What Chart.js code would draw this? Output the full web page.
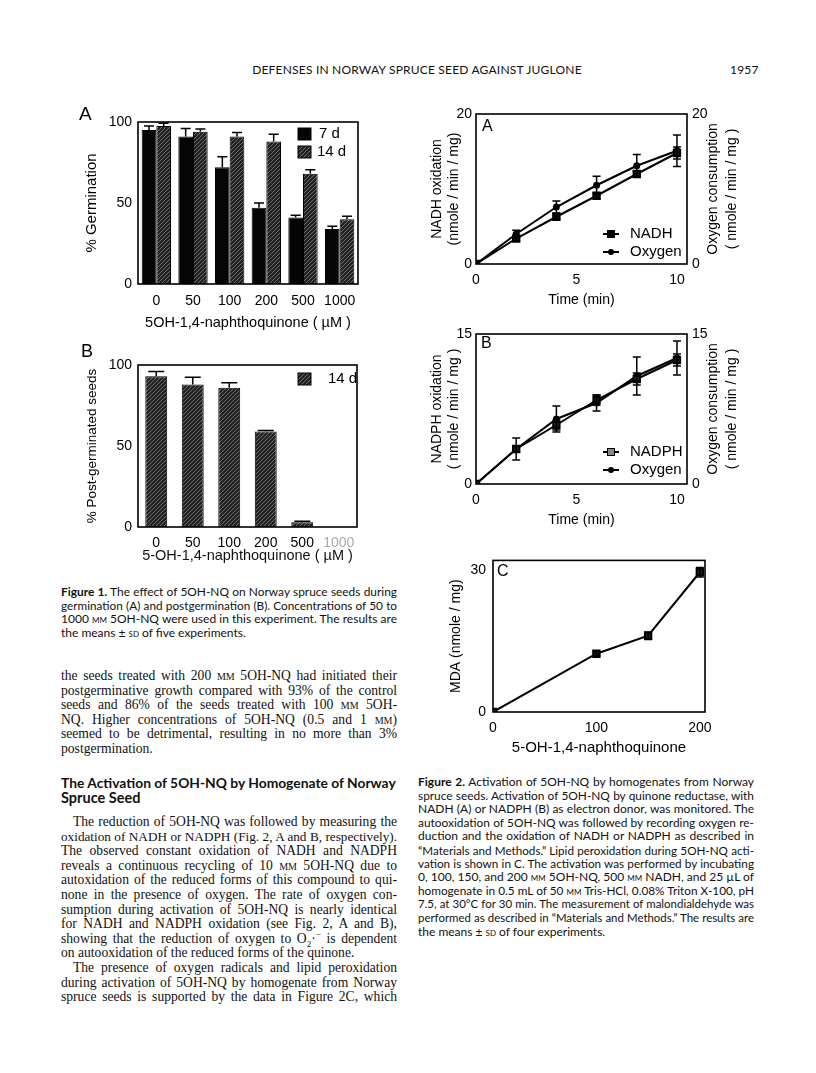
<!DOCTYPE html>
<html>
<head>
<meta charset="utf-8">
<script src="https://cdn.jsdelivr.net/npm/chart.js@4.4.1/dist/chart.umd.min.js"></script>
<style>
  html,body{margin:0;padding:0;background:#fff;}
  #page{position:relative;width:816px;height:1073px;overflow:hidden;background:#fff;color:#111;}
  .cv{position:absolute;}
  .ln{position:absolute;white-space:nowrap;line-height:14px;height:14px;}
  .cap{font-family:Lato,"Open Sans",sans-serif;font-size:12px;}
  .body{font-family:"Liberation Serif",serif;font-size:13.6px;}
  .hd{font-family:Lato,sans-serif;font-weight:700;font-size:14.5px;}
  .sc{font-variant:small-caps;}
  .pl{position:absolute;font-family:"Liberation Sans",Arial,sans-serif;line-height:1;color:#000;}
  .hdr{position:absolute;font-family:Lato,sans-serif;font-size:12px;letter-spacing:0.2px;line-height:14px;}
</style>
</head>
<body>
<div id="page">
  <div class="hdr" style="left:0;width:834px;text-align:center;top:63px;">DEFENSES IN NORWAY SPRUCE SEED AGAINST JUGLONE</div>
  <div class="hdr" style="left:730px;top:63px;">1957</div>

  <canvas id="c1a" class="cv" width="320" height="240" style="left:50px;top:95px;width:320px;height:240px;"></canvas>
  <canvas id="c1b" class="cv" width="320" height="235" style="left:50px;top:340px;width:320px;height:235px;"></canvas>
  <canvas id="c2a" class="cv" width="350" height="212" style="left:400px;top:100px;width:350px;height:212px;"></canvas>
  <canvas id="c2b" class="cv" width="350" height="212" style="left:400px;top:320px;width:350px;height:212px;"></canvas>
  <canvas id="c2c" class="cv" width="350" height="215" style="left:400px;top:545px;width:350px;height:215px;"></canvas>

  <div class="pl" style="left:79px;top:104px;font-size:19px;">A</div>
  <div class="pl" style="left:81px;top:342px;font-size:18px;">B</div>
  <div class="pl" style="left:482px;top:118px;font-size:16px;">A</div>
  <div class="pl" style="left:481px;top:335px;font-size:16px;">B</div>
  <div class="pl" style="left:497px;top:563px;font-size:16px;">C</div>

  <div id="text"></div>
</div>

<script>
// ---------------- DATA ----------------
const concLabels = ['0', '50', '100', '200', '500', '1000'];
const germ7d      = [95, 91, 72, 47, 41, 34];
const germ7dErr   = [2.5, 5, 6.5, 3, 1.5, 1.7];
const germ14d     = [97.5, 94, 91, 88, 68, 40];
const germ14dErr  = [1.7, 1.7, 2.5, 4.5, 2.5, 1.8];
const germTicks   = [0, 50, 100];

const postGerm14d    = [93, 88, 86, 59, 3, 0];
const postGerm14dErr = [3, 4.5, 3, 0.5, 0.5, 0];

const timeMin    = [0, 2, 4, 6, 8, 10];
const timeTicks  = [0, 5, 10];
const nadhOx     = [0, 3.4, 6.3, 9.1, 12.0, 14.8];
const nadhErr    = [0, 0.3, 0.3, 0.4, 0.4, 0.8];
const oxygenA    = [0, 4.0, 7.6, 10.5, 13.1, 15.1];
const oxygenAErr = [0, 0.5, 0.8, 1.2, 1.5, 2.1];
const ticksA     = [0, 20];

const nadphOx    = [0, 3.5, 5.9, 8.4, 10.5, 12.4];
const nadphErr   = [0, 0.3, 0.5, 0.5, 0.6, 0.6];
const oxygenB    = [0, 3.5, 6.5, 8.1, 10.8, 12.6];
const oxygenBErr = [0, 1.1, 1.3, 0.8, 1.9, 1.7];
const ticksB     = [0, 15];

const nqConc     = [0, 100, 150, 200];
const nqTicks    = [0, 100, 200];
const mda        = [0, 12.3, 16.1, 29.5];
const mdaErr     = [0, 0.4, 0.8, 1.0];
const ticksC     = [0, 30];

// ---------------- CHART SETUP ----------------
Chart.defaults.font.family = '"Liberation Sans", Arial, sans-serif';
Chart.defaults.color = '#000';
Chart.defaults.animation = false;

function hatchPattern() {
  const c = document.createElement('canvas');
  c.width = 4; c.height = 4;
  const g = c.getContext('2d');
  g.fillStyle = '#222'; g.fillRect(0, 0, 4, 4);
  g.strokeStyle = '#6e6e6e'; g.lineWidth = 1;
  g.beginPath();
  g.moveTo(0, 4); g.lineTo(4, 0);
  g.moveTo(-1, 1); g.lineTo(1, -1);
  g.moveTo(3, 5); g.lineTo(5, 3);
  g.stroke();
  return g.createPattern(c, 'repeat');
}
const HATCH = hatchPattern();

const errorBars = {
  id: 'errorBars',
  afterDatasetsDraw(chart) {
    const ctx = chart.ctx;
    chart.data.datasets.forEach((ds, di) => {
      if (!ds.errors) return;
      const meta = chart.getDatasetMeta(di);
      const ys = chart.scales[meta.yAxisID];
      ctx.save();
      ctx.strokeStyle = '#000';
      ctx.lineWidth = ds.errWidth || 1.5;
      meta.data.forEach((el, i) => {
        const e = ds.errors[i];
        if (!e) return;
        const raw = ds.data[i];
        const v = (typeof raw === 'object') ? raw.y : raw;
        const x = el.x;
        const yT = ys.getPixelForValue(v + e);
        const y0 = ys.getPixelForValue(v);
        const yB = ds.errUp ? y0 : ys.getPixelForValue(v - e);
        const cw = ds.errCap || 4;
        ctx.beginPath();
        ctx.moveTo(x, yT); ctx.lineTo(x, yB);
        ctx.moveTo(x - cw, yT); ctx.lineTo(x + cw, yT);
        if (!ds.errUp) { ctx.moveTo(x - cw, yB); ctx.lineTo(x + cw, yB); }
        ctx.stroke();
      });
      ctx.restore();
    });
  }
};

const boxFrame = {
  id: 'boxFrame',
  afterDraw(chart) {
    const a = chart.chartArea, ctx = chart.ctx;
    ctx.save();
    ctx.strokeStyle = '#000';
    ctx.lineWidth = 1.6;
    ctx.strokeRect(a.left, a.top, a.right - a.left, a.bottom - a.top);
    ctx.restore();
  }
};

const customLegend = {
  id: 'customLegend',
  afterDraw(chart, args, opts) {
    if (!opts.items) return;
    const ctx = chart.ctx, a = chart.chartArea;
    ctx.save();
    opts.items.forEach(it => {
      const ds = chart.data.datasets[it.dataset];
      if (it.type === 'box') {
        ctx.fillStyle = ds.backgroundColor;
        ctx.fillRect(a.left + it.x, a.top + it.y, it.w, it.h);
        ctx.strokeStyle = '#000'; ctx.lineWidth = 1;
        ctx.strokeRect(a.left + it.x, a.top + it.y, it.w, it.h);
      } else {
        const y = a.top + it.y;
        ctx.strokeStyle = '#000'; ctx.lineWidth = 2;
        ctx.beginPath(); ctx.moveTo(a.left + it.x, y); ctx.lineTo(a.left + it.x + it.w, y); ctx.stroke();
        const cx = a.left + it.x + it.w / 2;
        ctx.fillStyle = it.markFill || '#000';
        if (it.mark === 'rect') {
          ctx.fillRect(cx - 3.5, y - 3.5, 7, 7);
          ctx.lineWidth = 1; ctx.strokeRect(cx - 3.5, y - 3.5, 7, 7);
        } else {
          ctx.beginPath(); ctx.arc(cx, y, 3, 0, Math.PI * 2); ctx.fill();
        }
      }
      ctx.fillStyle = '#000';
      ctx.font = (opts.fontSize || 15) + 'px "Liberation Sans", Arial, sans-serif';
      ctx.textBaseline = 'middle';
      ctx.textAlign = 'left';
      ctx.fillText(ds.label, a.left + it.tx, a.top + it.ty);
    });
    ctx.restore();
  }
};

const rightTitle = {
  id: 'rightTitle',
  afterDraw(chart, args, opts) {
    if (!opts.lines) return;
    const ctx = chart.ctx, a = chart.chartArea;
    ctx.save();
    ctx.fillStyle = '#000';
    ctx.font = (opts.fontSize || 14) + 'px "Liberation Sans", Arial, sans-serif';
    ctx.textAlign = 'center';
    ctx.textBaseline = 'middle';
    opts.lines.forEach((t, i) => {
      ctx.save();
      ctx.translate(a.right + opts.offsets[i], (a.top + a.bottom) / 2 + (opts.dy || 0));
      ctx.rotate(-Math.PI / 2);
      ctx.fillText(t, 0, 0);
      ctx.restore();
    });
    ctx.restore();
  }
};

function setTicks(vals) { return s => { s.ticks = vals.map(v => ({ value: v })); }; }
function fixW(w) { return s => { s.width = w; }; }
function fixH(h) { return s => { s.height = h; }; }

const noGrid = { display: false, drawTicks: false };
const noBorder = { display: false };

// ---------- Figure 1A ----------
new Chart(document.getElementById('c1a'), {
  type: 'bar',
  data: {
    labels: concLabels,
    datasets: [
      { label: '7 d', data: germ7d, errors: germ7dErr, errUp: true, errCap: 5,
        backgroundColor: '#050505', borderColor: '#000', borderWidth: 1 },
      { label: '14 d', data: germ14d, errors: germ14dErr, errUp: true, errCap: 5,
        backgroundColor: HATCH, borderColor: '#000', borderWidth: 1 }
    ]
  },
  options: {
    responsive: false, devicePixelRatio: 1,
    layout: { padding: { top: 27, right: 12, left: 0, bottom: 0 } },
    datasets: { bar: { categoryPercentage: 0.8, barPercentage: 1.0 } },
    plugins: {
      legend: { display: false }, tooltip: { enabled: false },
      customLegend: { fontSize: 15, items: [
        { type: 'box', dataset: 0, x: 160, y: 6, w: 13, h: 12, tx: 181, ty: 12 },
        { type: 'box', dataset: 1, x: 160, y: 24, w: 13, h: 12, tx: 179, ty: 30 }
      ] }
    },
    scales: {
      x: { grid: noGrid, border: noBorder, afterFit: fixH(51),
           ticks: { font: { size: 14 }, padding: 9, maxRotation: 0 },
           title: { display: true, text: '5OH-1,4-naphthoquinone ( µM )', font: { size: 14.5 }, padding: { top: 0, bottom: 3 } } },
      y: { min: 0, max: 100, grid: noGrid, border: noBorder, afterFit: fixW(88),
           afterBuildTicks: setTicks(germTicks),
           ticks: { font: { size: 14 }, padding: 6 },
           title: { display: true, text: '% Germination', font: { size: 15 }, padding: { top: 33, bottom: 0 } } }
    }
  },
  plugins: [errorBars, boxFrame, customLegend]
});

// ---------- Figure 1B ----------
new Chart(document.getElementById('c1b'), {
  type: 'bar',
  data: {
    labels: concLabels,
    datasets: [
      { label: '14 d', data: postGerm14d, errors: postGerm14dErr, errUp: true, errCap: 8,
        backgroundColor: HATCH, borderColor: '#000', borderWidth: 1 }
    ]
  },
  options: {
    responsive: false, devicePixelRatio: 1,
    layout: { padding: { top: 25, right: 13, left: 0, bottom: 0 } },
    datasets: { bar: { categoryPercentage: 0.6, barPercentage: 1.0 } },
    plugins: {
      legend: { display: false }, tooltip: { enabled: false },
      customLegend: { fontSize: 15, items: [
        { type: 'box', dataset: 0, x: 160, y: 8, w: 13, h: 12, tx: 190, ty: 14 }
      ] }
    },
    scales: {
      x: { grid: noGrid, border: noBorder, afterFit: fixH(48),
           ticks: { font: { size: 14 }, padding: 8, maxRotation: 0,
                    color: c => (c.index === 5 ? '#aaa' : '#000') },
           title: { display: true, text: '5-OH-1,4-naphthoquinone ( µM )', font: { size: 14.5 }, color: '#111', padding: { top: 0, bottom: 10 } } },
      y: { min: 0, max: 100, grid: noGrid, border: noBorder, afterFit: fixW(88),
           afterBuildTicks: setTicks(germTicks),
           ticks: { font: { size: 14 }, padding: 6 },
           title: { display: true, text: '% Post-germinated seeds', font: { size: 13.5 }, padding: { top: 34, bottom: 0 } } }
    }
  },
  plugins: [errorBars, boxFrame, customLegend]
});

// ---------- Figure 2A / 2B helper ----------
function timeChart(id, ds1, ds2, yTicks, yMax, leftTitle, legendItems) {
  return new Chart(document.getElementById(id), {
    type: 'line',
    data: { datasets: [ds1, ds2] },
    options: {
      responsive: false, devicePixelRatio: 1,
      layout: { padding: { top: 14, right: 0, left: 0, bottom: 0 } },
      plugins: {
        legend: { display: false }, tooltip: { enabled: false },
        customLegend: { fontSize: 15, items: legendItems },
        rightTitle: { fontSize: 14, lines: ['Oxygen consumption', '( nmole / min / mg )'], offsets: [26, 45] }
      },
      scales: {
        x: { type: 'linear', min: 0, max: 10.5, grid: noGrid, border: noBorder, afterFit: fixH(48),
             afterBuildTicks: setTicks(timeTicks),
             ticks: { font: { size: 14 }, padding: 8 },
             title: { display: true, text: 'Time (min)', font: { size: 14 }, padding: { top: 0, bottom: 3 } } },
        y: { min: 0, max: yMax, grid: noGrid, border: noBorder, afterFit: fixW(76),
             afterBuildTicks: setTicks(yTicks),
             ticks: { font: { size: 14 }, padding: 4 },
             title: { display: true, text: leftTitle, font: { size: 14 }, padding: { top: 29, bottom: 0 } } },
        y2: { position: 'right', min: 0, max: yMax, grid: noGrid, border: noBorder, afterFit: fixW(63),
              afterBuildTicks: setTicks(yTicks),
              ticks: { font: { size: 14 }, padding: 5 } }
      }
    },
    plugins: [errorBars, boxFrame, customLegend, rightTitle]
  });
}

function pts(xs, ys) { return xs.map((x, i) => ({ x: x, y: ys[i] })); }

timeChart('c2a',
  { label: 'NADH', data: pts(timeMin, nadhOx), errors: nadhErr, errCap: 4,
    borderColor: '#000', borderWidth: 2, backgroundColor: '#000',
    pointStyle: 'rect', pointRadius: 4.5, pointBackgroundColor: '#111', pointBorderColor: '#000' },
  { label: 'Oxygen', data: pts(timeMin, oxygenA), errors: oxygenAErr, errCap: 4,
    borderColor: '#000', borderWidth: 2, backgroundColor: '#000',
    pointStyle: 'circle', pointRadius: 2.5, pointBackgroundColor: '#000', pointBorderColor: '#000' },
  ticksA, 20, ['NADH oxidation', '(nmole / min / mg)'],
  [ { type: 'line', mark: 'rect', dataset: 0, x: 127, y: 120, w: 16, tx: 154, ty: 120 },
    { type: 'line', mark: 'dot', dataset: 1, x: 127, y: 138, w: 16, tx: 154, ty: 138 } ]
);

timeChart('c2b',
  { label: 'NADPH', data: pts(timeMin, nadphOx), errors: nadphErr, errCap: 4,
    borderColor: '#000', borderWidth: 2, backgroundColor: '#000',
    pointStyle: 'rect', pointRadius: 4.5, pointBackgroundColor: '#222', pointBorderColor: '#000' },
  { label: 'Oxygen', data: pts(timeMin, oxygenB), errors: oxygenBErr, errCap: 4,
    borderColor: '#000', borderWidth: 2, backgroundColor: '#000',
    pointStyle: 'circle', pointRadius: 2.5, pointBackgroundColor: '#000', pointBorderColor: '#000' },
  ticksB, 15, ['NADPH oxidation', '( nmole / min / mg )'],
  [ { type: 'line', mark: 'rect', markFill: '#888', dataset: 0, x: 127, y: 118, w: 16, tx: 154, ty: 118 },
    { type: 'line', mark: 'dot', dataset: 1, x: 127, y: 136, w: 16, tx: 154, ty: 136 } ]
);

// ---------- Figure 2C ----------
new Chart(document.getElementById('c2c'), {
  type: 'line',
  data: { datasets: [
    { label: 'MDA', data: pts(nqConc, mda), errors: mdaErr, errCap: 4,
      borderColor: '#000', borderWidth: 2, backgroundColor: '#000',
      pointStyle: 'rect', pointRadius: 4.5, pointBackgroundColor: '#222', pointBorderColor: '#000' }
  ] },
  options: {
    responsive: false, devicePixelRatio: 1,
    layout: { padding: { top: 13, right: 45, left: 0, bottom: 0 } },
    plugins: { legend: { display: false }, tooltip: { enabled: false } },
    scales: {
      x: { type: 'linear', min: 0, max: 205, grid: noGrid, border: noBorder, afterFit: fixH(48),
           afterBuildTicks: setTicks(nqTicks),
           ticks: { font: { size: 14 }, padding: 8 },
           title: { display: true, text: '5-OH-1,4-naphthoquinone', font: { size: 15, weight: '500' }, padding: { top: 0, bottom: 3 } } },
      y: { min: 0, max: 32, grid: noGrid, border: noBorder, afterFit: fixW(93),
           afterBuildTicks: setTicks(ticksC),
           ticks: { font: { size: 14 }, padding: 7 },
           title: { display: true, text: 'MDA (nmole / mg)', font: { size: 14 }, padding: { top: 48, bottom: 0 } } }
    }
  },
  plugins: [errorBars, boxFrame]
});

// ---------------- TEXT ----------------
const SC = s => '<span class="sc">' + s + '</span>';
const LX = 61, LW = 336, RX = 418, RW = 336;
const textLines = [
  // [x, width, centerY, class, html, justify, indent]
  [LX, LW, 592, 'cap', '<b>Figure 1.</b> The effect of 5OH-NQ on Norway spruce seeds during', 1],
  [LX, LW, 605.5, 'cap', 'germination (A) and postgermination (B). Concentrations of 50 to', 1],
  [LX, LW, 619, 'cap', '1000 ' + SC('µm') + ' 5OH-NQ were used in this experiment. The results are', 1],
  [LX, LW, 632.5, 'cap', 'the means ± ' + SC('sd') + ' of five experiments.', 0],

  [LX, LW, 676, 'body', 'the seeds treated with 200 ' + SC('µm') + ' 5OH-NQ had initiated their', 1],
  [LX, LW, 690.6, 'body', 'postgerminative growth compared with 93% of the control', 1],
  [LX, LW, 705.2, 'body', 'seeds and 86% of the seeds treated with 100 ' + SC('µm') + ' 5OH-', 1],
  [LX, LW, 719.8, 'body', 'NQ. Higher concentrations of 5OH-NQ (0.5 and 1 ' + SC('mm') + ')', 1],
  [LX, LW, 734.4, 'body', 'seemed to be detrimental, resulting in no more than 3%', 1],
  [LX, LW, 749, 'body', 'postgermination.', 0],

  [LX, LW, 783, 'hd', 'The Activation of 5OH-NQ by Homogenate of Norway', 0],
  [LX, LW, 798, 'hd', 'Spruce Seed', 0],

  [LX, LW, 822, 'body', 'The reduction of 5OH-NQ was followed by measuring the', 1, 12],
  [LX, LW, 836.6, 'body', 'oxidation of NADH or NADPH (Fig. 2, A and B, respectively).', 1],
  [LX, LW, 851.2, 'body', 'The observed constant oxidation of NADH and NADPH', 1],
  [LX, LW, 865.8, 'body', 'reveals a continuous recycling of 10 ' + SC('µm') + ' 5OH-NQ due to', 1],
  [LX, LW, 880.4, 'body', 'autoxidation of the reduced forms of this compound to qui-', 1],
  [LX, LW, 895, 'body', 'none in the presence of oxygen. The rate of oxygen con-', 1],
  [LX, LW, 909.6, 'body', 'sumption during activation of 5OH-NQ is nearly identical', 1],
  [LX, LW, 924.2, 'body', 'for NADH and NADPH oxidation (see Fig. 2, A and B),', 1],
  [LX, LW, 938.8, 'body', 'showing that the reduction of oxygen to O<sub style="font-size:9px;line-height:0">2</sub>·<sup style="font-size:9px;line-height:0">−</sup> is dependent', 1],
  [LX, LW, 953.4, 'body', 'on autooxidation of the reduced forms of the quinone.', 0],
  [LX, LW, 968, 'body', 'The presence of oxygen radicals and lipid peroxidation', 1, 12],
  [LX, LW, 982.6, 'body', 'during activation of 5OH-NQ by homogenate from Norway', 1],
  [LX, LW, 997.2, 'body', 'spruce seeds is supported by the data in Figure 2C, which', 1],

  [RX, RW, 782, 'cap', '<b>Figure 2.</b> Activation of 5OH-NQ by homogenates from Norway', 1],
  [RX, RW, 795.6, 'cap', 'spruce seeds. Activation of 5OH-NQ by quinone reductase, with', 1],
  [RX, RW, 809.2, 'cap', 'NADH (A) or NADPH (B) as electron donor, was monitored. The', 1],
  [RX, RW, 822.8, 'cap', 'autooxidation of 5OH-NQ was followed by recording oxygen re-', 1],
  [RX, RW, 836.4, 'cap', 'duction and the oxidation of NADH or NADPH as described in', 1],
  [RX, RW, 850, 'cap', '“Materials and Methods.” Lipid peroxidation during 5OH-NQ acti-', 1],
  [RX, RW, 863.6, 'cap', 'vation is shown in C. The activation was performed by incubating', 1],
  [RX, RW, 877.2, 'cap', '0, 100, 150, and 200 ' + SC('µm') + ' 5OH-NQ, 500 ' + SC('µm') + ' NADH, and 25 µL of', 1],
  [RX, RW, 890.8, 'cap', 'homogenate in 0.5 mL of 50 ' + SC('mm') + ' Tris-HCl, 0.08% Triton X-100, pH', 1],
  [RX, RW, 904.4, 'cap', '7.5, at 30°C for 30 min. The measurement of malondialdehyde was', 1],
  [RX, RW, 918, 'cap', 'performed as described in “Materials and Methods.” The results are', 1],
  [RX, RW, 931.6, 'cap', 'the means ± ' + SC('sd') + ' of four experiments.', 0]
];

const host = document.getElementById('text');
textLines.forEach(l => {
  const [x, w, cy, cls, html, just, indent] = l;
  const d = document.createElement('div');
  d.className = 'ln ' + cls;
  d.innerHTML = html;
  const ind = indent || 0;
  d.style.left = (x + ind) + 'px';
  d.style.top = (cy - 7) + 'px';
  d.style.display = 'inline-block';
  host.appendChild(d);
  const avail = w - ind;
  const nat = d.getBoundingClientRect().width;
  if (nat > avail) {
    const fs = parseFloat(getComputedStyle(d).fontSize);
    d.style.fontSize = (fs * avail / nat - 0.05) + 'px';
  }
  if (just) {
    d.style.display = 'block';
    d.style.width = avail + 'px';
    d.style.textAlign = 'justify';
    d.style.textAlignLast = 'justify';
  }
});
</script>
</body>
</html>
